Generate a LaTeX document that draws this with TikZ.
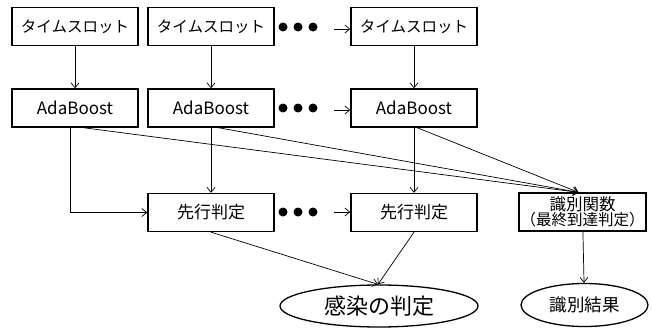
\documentclass[tikz,border=0pt]{standalone}
\usepackage{fontspec}
\setmainfont{Noto Sans CJK JP}
\usetikzlibrary{arrows.meta,shapes.geometric,calc}
\tikzset{
  box/.style={draw, line width=1.3pt, minimum width=126pt, minimum height=38pt,
    inner sep=0pt, font=\fontsize{17}{20}\selectfont},
  slot/.style={box, font=\fontsize{15.5}{18}\selectfont},
  oval/.style={draw, ellipse, line width=1.3pt, inner sep=0pt},
  link/.style={line width=0.7pt, -{Straight Barb[length=5pt,width=8pt]}},
  dot/.style={circle, fill=black, minimum size=9pt, inner sep=0pt}
}
\begin{document}
\begin{tikzpicture}[x=1pt, y=-1pt]
\useasboundingbox (0,0) rectangle (652,329);

% time slots
\node[slot] (t1) at (75,26.5) {タイムスロット};
\node[slot] (t2) at (211,26.5) {タイムスロット};
\node[slot] (t3) at (414,26.5) {タイムスロット};

% AdaBoost learners
\node[box] (a1) at (75,108) {AdaBoost};
\node[box] (a2) at (211,108) {AdaBoost};
\node[box] (a3) at (414,108) {AdaBoost};

% early decisions
\node[box] (p1) at (211,212.5) {先行判定};
\node[box] (p2) at (414,212.5) {先行判定};

% discriminant function
\node[box, minimum width=127pt, font=\fontsize{15.5}{15.5}\selectfont, align=center]
  (d) at (582.5,212) {{\fontsize{16.5}{16.5}\selectfont 識別関数}\\（最終到達判定）};

% results
\node[oval, minimum width=198pt, minimum height=42pt, font=\fontsize{22}{26}\selectfont]
  (e1) at (379,306) {感染の判定};
\node[oval, minimum width=127pt, minimum height=43pt, font=\fontsize{17.5}{20}\selectfont]
  (e2) at (584.5,305) {識別結果};

% ellipsis dots
\foreach \yy/\nm in {27/r1,108/r2,212/r3}{
  \node[dot] (\nm a) at (283,\yy) {};
  \node[dot] (\nm b) at (298,\yy) {};
  \node[dot] (\nm c) at (313,\yy) {};
}

% free ends of the short arrows after the dots
\coordinate (s1) at (334,29);
\coordinate (s2) at (334,110);
\coordinate (s3) at (334,212);
\coordinate (dn) at ($(d.north)+(-4,0)$);

% slot -> learner
\draw[link] (t1) -- (a1);
\draw[link] (t2) -- (a2);
\draw[link] (t3) -- (a3);
\draw[link] (s1) -- (s1 -| t3.west);
\draw[link] (s2) -- (s2 -| a3.west);
\draw[link] (s3) -- (s3 -| p2.west);

% learner -> early decision
\draw[link] ($(a1.south)+(-5,0)$) |- (p1.west);
\draw[link] (a2) -- (p1);
\draw[link] (a3) -- (p2);

% learner -> discriminant function
\draw[link] ($(a1.south)+(8,0)$) -- (dn);
\draw[link] ($(a2.south)+(7,0)$) -- (dn);
\draw[link] ($(a3.south)+(3,0)$) -- (dn);

% decisions -> results
\draw[link] (p1.south) -- ($(e1.north)+(-1,0)$);
\draw[link] (p2.south) -- ($(e1.north)+(-1,0)$);
\draw[link] (d) -- (e2);
\end{tikzpicture}
\end{document}
